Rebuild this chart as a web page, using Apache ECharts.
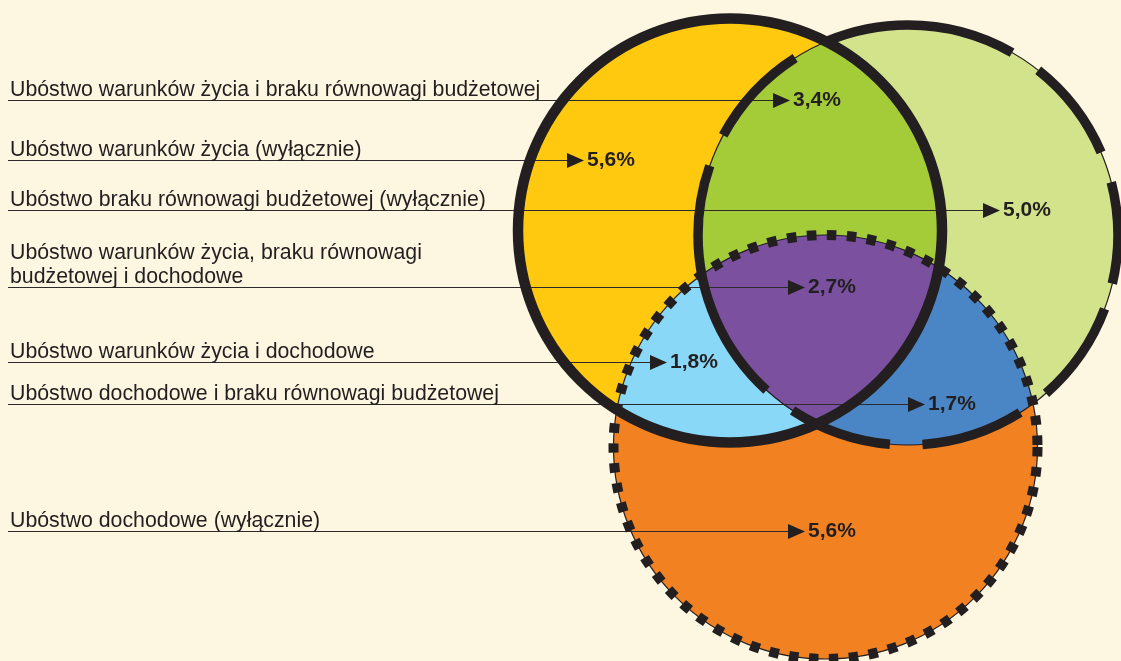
<!DOCTYPE html>
<html>
<head>
<meta charset="utf-8">
<title>Ubóstwo – diagram</title>
<script src="https://cdn.jsdelivr.net/npm/echarts@6/dist/echarts.min.js"></script>
<style>
  html, body { margin: 0; padding: 0; background: #fdf6e0; }
  #main { width: 1121px; height: 661px; }
</style>
</head>
<body>
<div id="main"></div>
<script>
// dane
var regionLabels = [
  'Ubóstwo warunków życia i braku równowagi budżetowej',
  'Ubóstwo warunków życia (wyłącznie)',
  'Ubóstwo braku równowagi budżetowej (wyłącznie)',
  'Ubóstwo warunków życia, braku równowagi\nbudżetowej i dochodowe',
  'Ubóstwo warunków życia i dochodowe',
  'Ubóstwo dochodowe i braku równowagi budżetowej',
  'Ubóstwo dochodowe (wyłącznie)'
];
var regionSets = ['AB', 'A', 'B', 'ABC', 'AC', 'BC', 'C'];
var regionValues = [3.4, 5.6, 5.0, 2.7, 1.8, 1.7, 5.6];

// układ (piksele)
var leaderY = [100, 160, 210, 287, 362, 404, 531];
var arrowX = [790, 584, 1000, 805, 667, 925, 805];
var circles = {
  A: { x: 730, y: 230.5, r: 212 },
  B: { x: 908, y: 235, r: 210 },
  C: { x: 825.5, y: 447, r: 212 }
};
var fillColors = {
  A: '#fec90f', B: '#d3e38b', C: '#f28221',
  AB: '#a4cc39', AC: '#8ad8f7', BC: '#4a86c6', ABC: '#7a509f'
};
var paintOrder = ['A', 'B', 'C', 'AB', 'AC', 'BC', 'ABC'];
var dark = '#231f20';
var fontFamily = "'Liberation Sans', Arial, sans-serif";
// kreski obwódki B (stopnie, od prawej, zgodnie z ruchem wskazówek)
var bDashArcs = [[-14.7, 13.4], [20.6, 48.9], [57.7, 86], [94.9, 123.3],
                 [132.3, 199.2], [208.3, 237.4], [247.4, 299.6], [308.2, 336.7]];

function dashFromArcs(arcs, r) {
  var k = Math.PI / 180 * r;
  var out = [], pos = 0;
  // pierwsza kreska zaczyna się przed 0 stopni: dzielimy ją na dwie części
  var first = arcs[0];
  out.push(first[1] * k, 0);
  pos = first[1];
  for (var i = 1; i < arcs.length; i++) {
    out[out.length - 1] = (arcs[i][0] - pos) * k;
    out.push((arcs[i][1] - arcs[i][0]) * k, 0);
    pos = arcs[i][1];
  }
  out[out.length - 1] = (360 + first[0] - pos) * k;
  out.push(-first[0] * k, 0);
  return out;
}

function intersect(c1, c2) {
  var dx = c2.x - c1.x, dy = c2.y - c1.y;
  var d = Math.sqrt(dx * dx + dy * dy);
  var a = (c1.r * c1.r - c2.r * c2.r + d * d) / (2 * d);
  var h = Math.sqrt(c1.r * c1.r - a * a);
  var mx = c1.x + a * dx / d, my = c1.y + a * dy / d;
  return [[mx + h * dy / d, my - h * dx / d], [mx - h * dy / d, my + h * dx / d]];
}
function inside(p, c) {
  var dx = p[0] - c.x, dy = p[1] - c.y;
  return Math.sqrt(dx * dx + dy * dy) <= c.r + 0.5;
}
// punkty łuku okręgu c od p1 do p2, tą drogą, której środek leży w okręgach mustIn
function arcPts(c, p1, p2, mustIn) {
  var a1 = Math.atan2(p1[1] - c.y, p1[0] - c.x);
  var a2 = Math.atan2(p2[1] - c.y, p2[0] - c.x);
  var d = a2 - a1;
  while (d <= -Math.PI) d += 2 * Math.PI;
  while (d > Math.PI) d -= 2 * Math.PI;
  var mid = a1 + d / 2;
  var mp = [c.x + c.r * Math.cos(mid), c.y + c.r * Math.sin(mid)];
  var ok = mustIn.every(function (o) { return inside(mp, o); });
  if (!ok) d = d > 0 ? d - 2 * Math.PI : d + 2 * Math.PI;
  var pts = [];
  for (var i = 0; i <= 80; i++) {
    var t = a1 + d * i / 80;
    pts.push([c.x + c.r * Math.cos(t), c.y + c.r * Math.sin(t)]);
  }
  return pts;
}
function pickInside(pts, c) {
  return inside(pts[0], c) ? pts[0] : pts[1];
}
function regionPoints(key) {
  var A = circles.A, B = circles.B, C = circles.C;
  if (key.length === 2) {
    var P = circles[key[0]], Q = circles[key[1]];
    var x = intersect(P, Q);
    return arcPts(P, x[0], x[1], [Q]).concat(arcPts(Q, x[1], x[0], [P]));
  }
  var vAB = pickInside(intersect(A, B), C);
  var vBC = pickInside(intersect(B, C), A);
  var vAC = pickInside(intersect(A, C), B);
  return arcPts(C, vBC, vAC, [A, B])
    .concat(arcPts(A, vAC, vAB, [B, C]))
    .concat(arcPts(B, vAB, vBC, [A, C]));
}

function fmt(v) {
  return v.toFixed(1).replace('.', ',') + '%';
}

function renderFill(params, api) {
  var key = paintOrder[params.dataIndex];
  var style = { fill: fillColors[key] };
  if (key.length === 1) {
    var c = circles[key];
    var p = api.coord([c.x, c.y]);
    return { type: 'circle', shape: { cx: p[0], cy: p[1], r: api.size([c.r, 0])[0] }, style: style };
  }
  var pts = regionPoints(key).map(function (q) { return api.coord(q); });
  return { type: 'polygon', shape: { points: pts }, style: style };
}

var outlineOrder = ['C', 'B', 'A'];
var outlineDash = {
  A: { lineWidth: 10.5, lineDash: null },
  B: { lineWidth: 9.5, lineDash: dashFromArcs(bDashArcs, circles.B.r) },
  C: { lineWidth: 10, lineDash: [9.5, 10.5] }
};
function renderOutline(params, api) {
  var key = outlineOrder[params.dataIndex];
  var c = circles[key];
  var p = api.coord([c.x, c.y]);
  var r = api.size([c.r, 0])[0];
  var d = outlineDash[key];
  return {
    type: 'group',
    children: [
      { type: 'circle', shape: { cx: p[0], cy: p[1], r: r },
        style: { fill: 'none', stroke: dark, lineWidth: 1.2 } },
      { type: 'circle', shape: { cx: p[0], cy: p[1], r: r },
        style: { fill: 'none', stroke: dark, lineWidth: d.lineWidth,
                 lineDash: d.lineDash, lineCap: 'butt' } }
    ]
  };
}

function renderLabel(params, api) {
  var i = params.dataIndex;
  var tip = api.coord([api.value(0), api.value(1)]);
  var start = api.coord([8, api.value(1)]);
  var y = Math.round(tip[1]) + 0.5;
  return {
    type: 'group',
    children: [
      { type: 'line', shape: { x1: start[0], y1: y, x2: tip[0] - 16, y2: y },
        style: { stroke: '#2e2a2b', lineWidth: 1.2 } },
      { type: 'polygon', shape: { points: [[tip[0], y], [tip[0] - 17, y - 7.5], [tip[0] - 17, y + 7.5]] },
        style: { fill: dark } },
      { type: 'text', style: { text: fmt(api.value(2)), x: tip[0] + 3, y: y,
        font: 'bold 21px ' + fontFamily, fill: dark, align: 'left', verticalAlign: 'middle' } },
      { type: 'text', style: { text: regionLabels[i], x: start[0] + 2, y: y + 1.5,
        font: '21.3px ' + fontFamily, fill: dark, align: 'left', verticalAlign: 'bottom', lineHeight: 24 } }
    ]
  };
}

var chart = echarts.init(document.getElementById('main'), null, { renderer: 'canvas' });
chart.setOption({
  backgroundColor: '#fdf6e0',
  animation: false,
  grid: { left: 0, right: 0, top: 0, bottom: 0 },
  xAxis: { type: 'value', min: 0, max: 1121, show: false },
  yAxis: { type: 'value', min: 0, max: 661, inverse: true, show: false },
  series: [
    {
      name: 'obszary', type: 'custom', silent: true, clip: false, z: 1,
      renderItem: renderFill,
      data: paintOrder.map(function (k, i) { return [i, 0]; })
    },
    {
      name: 'linie', type: 'custom', silent: true, clip: false, z: 2,
      renderItem: renderLabel,
      data: regionValues.map(function (v, i) { return [arrowX[i], leaderY[i], v]; })
    },
    {
      name: 'okręgi', type: 'custom', silent: true, clip: false, z: 3,
      renderItem: renderOutline,
      data: outlineOrder.map(function (k, i) { return [i, 0]; })
    }
  ]
});
</script>
</body>
</html>
